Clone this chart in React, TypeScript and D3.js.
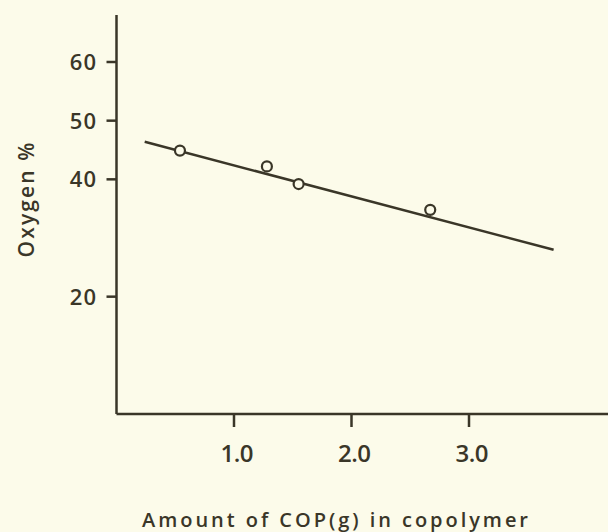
import React from "react";
import * as d3 from "d3";

// values
const copAmount = [0.54, 1.28, 1.55, 2.67];
const oxygenPct = [44.9, 42.2, 39.2, 34.8];
// fitted straight line, two ends
const fitX = [0.24, 3.72];
const fitY = [46.4, 28.0];
const yTicks = [20, 40, 50, 60];
const xTicks = [1, 2, 3];

const W = 608;
const H = 532;
const ink = "#3a3628";
const paper = "#fcfbea";
const font = "'Open Sans', 'DejaVu Sans', sans-serif";

export default function App() {
  const x = d3.scaleLinear().domain([0, 4]).range([116.5, 586.5]);
  const y = d3.scaleLinear().domain([0, 60]).range([414, 62]);

  const fit = d3.line<number>()
    .x((d) => x(fitX[d]))
    .y((d) => y(fitY[d]));

  return (
    <svg width={W} height={H} style={{ position: "fixed", top: 0, left: 0 }}>
      <rect width={W} height={H} fill={paper} />

      {/* axes */}
      <line x1={x(0)} y1={y(0)} x2={x(0)} y2={y(68)} stroke={ink} strokeWidth={2.5} />
      <line x1={x(0)} y1={y(0)} x2={x(4.2)} y2={y(0)} stroke={ink} strokeWidth={2.5} />

      {yTicks.map((t) => (
        <g key={t}>
          <line x1={x(0) - 10} x2={x(0)} y1={y(t)} y2={y(t)} stroke={ink} strokeWidth={2.5} />
          <text x={97} y={y(t)} dy="0.36em" textAnchor="end"
            fontFamily={font} fontWeight={600} fontSize={22} fill={ink}
            letterSpacing={1}>
            {t}
          </text>
        </g>
      ))}

      {xTicks.map((t) => (
        <g key={t}>
          <line x1={x(t)} x2={x(t)} y1={y(0)} y2={y(0) + 13} stroke={ink} strokeWidth={2.5} />
          <text x={x(t) + 3} y={462} textAnchor="middle"
            fontFamily={font} fontWeight={600} fontSize={24} fill={ink}
            textLength={33} lengthAdjust="spacing">
            {t.toFixed(1)}
          </text>
        </g>
      ))}

      <text transform={`translate(34,200) rotate(-90)`} textAnchor="middle"
        fontFamily={font} fontWeight={600} fontSize={21} fill={ink}
        textLength={115} lengthAdjust="spacing">
        Oxygen %
      </text>
      <text x={335} y={527} textAnchor="middle"
        fontFamily={font} fontWeight={600} fontSize={20} fill={ink}
        textLength={386} lengthAdjust="spacing">
        Amount  of COP(g) in copolymer
      </text>

      <path d={fit([0, 1]) || ""} fill="none" stroke={ink} strokeWidth={2.5} />

      {copAmount.map((c, i) => (
        <circle key={i} cx={x(c)} cy={y(oxygenPct[i])} r={5}
          fill={paper} stroke={ink} strokeWidth={2.2} />
      ))}
    </svg>
  );
}
